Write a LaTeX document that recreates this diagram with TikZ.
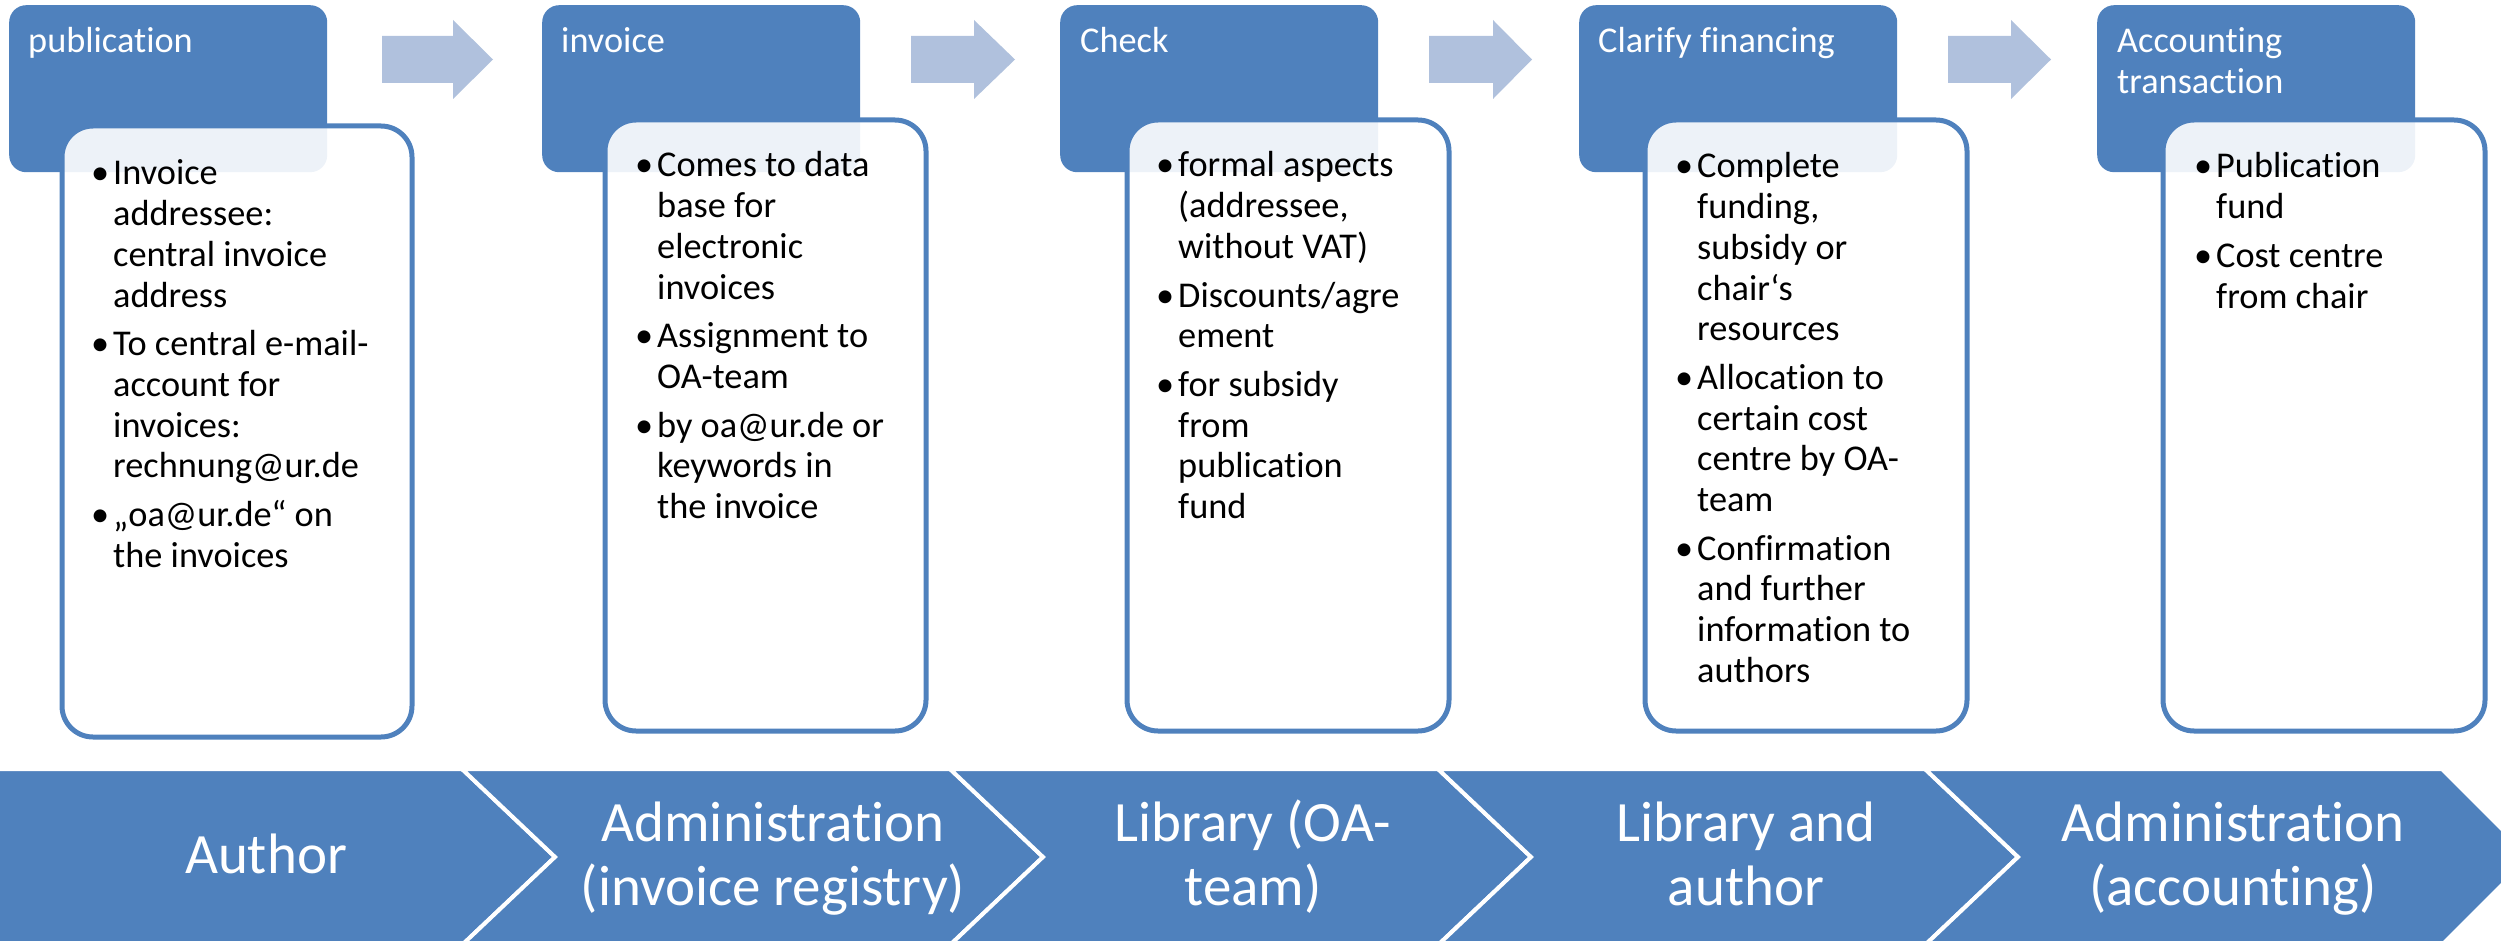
\documentclass[tikz,border=0pt]{standalone}
\usepackage{fontspec}
\setmainfont{Carlito}[Ligatures={NoCommon}]
\definecolor{acc}{RGB}{79,129,189}
\definecolor{arr}{RGB}{176,193,221}
\newlength\bw \setlength\bw{22pt}
\newcommand\bl[1]{\hbox{\hbox to \bw{\textbullet\hfil}#1}}
\newcommand\cl[1]{\hbox{\hskip\bw #1}}
\newcommand\igap{\vskip 8pt}
\newcommand\cen[1]{\hbox to 0pt{\hss #1\hss}}
\newcommand\bodylist[1]{\vtop{\baselineskip=40.7pt\lineskiplimit=-100pt\lineskip=0pt #1}}
\newcommand\bandlist[1]{\vtop{\baselineskip=64pt\lineskiplimit=-100pt\lineskip=0pt #1}}
\begin{document}
\begin{tikzpicture}[x=1pt,y=-1pt,
  hdr/.style={rectangle, rounded corners=17pt, fill=acc, draw=none, inner sep=0pt, minimum width=318pt, minimum height=167pt, anchor=north west},
  wbox/.style={rectangle, rounded corners=31pt, fill=white, fill opacity=0.9, draw=acc, draw opacity=1, line width=5pt, inner sep=0pt, minimum height=611pt, anchor=north west},
  htext/.style={inner sep=0pt, anchor=base west, text=white, font=\fontsize{36.3}{41}\selectfont},
  btext/.style={inner sep=0pt, anchor=base west, text=black, font=\fontsize{36.3}{40.7}\selectfont},
  bandtext/.style={inner sep=0pt, anchor=base, text=white, font=\fontsize{57}{64}\selectfont},
  blockarrow/.style={fill=arr, draw=none},
  chev/.style={fill=acc, draw=white, line width=4pt, line join=miter}
]
\useasboundingbox (0,0) rectangle (2501,941);
\clip (0,0) rectangle (2501,941);

% headers
\node[hdr] (h1) at (9,5) {};
\node[hdr] (h2) at (542,5) {};
\node[hdr] (h3) at (1060,5) {};
\node[hdr] (h4) at (1579,5) {};
\node[hdr] (h5) at (2097,5) {};

\node[htext] (ht1) at (28,53) {publication};
\node[htext] (ht2) at (561,53) {invoice};
\node[htext] (ht3) at (1080,53) {Check};
\node[htext] (ht4) at (1598,53) {Clarify financing};
\node[htext] (ht5) at (2117,53) {\vtop{\baselineskip=41pt\hbox{Accounting}\hbox{transaction}}};

% block arrows
\path[blockarrow] (382,36) -- (453,36) -- (453,20) -- (493,59.5) -- (453,99) -- (453,83) -- (382,83) -- cycle;
\path[blockarrow] (911,36) -- (974,36) -- (974,20) -- (1015,59.5) -- (974,99) -- (974,83) -- (911,83) -- cycle;
\path[blockarrow] (1429,36) -- (1493,36) -- (1493,20) -- (1532,59.5) -- (1493,99) -- (1493,83) -- (1429,83) -- cycle;
\path[blockarrow] (1948,36) -- (2011,36) -- (2011,20) -- (2051,59.5) -- (2011,99) -- (2011,83) -- (1948,83) -- cycle;

% white boxes
\node[wbox, minimum width=350pt] (b1) at (59.5,123.5) {};
\node[wbox, minimum width=321pt] (b2) at (602.5,117.5) {};
\node[wbox, minimum width=322pt] (b3) at (1124.5,117.5) {};
\node[wbox, minimum width=322pt] (b4) at (1642.5,117.5) {};
\node[wbox, minimum width=322pt] (b5) at (2160.5,117.5) {};

% box texts
\node[btext] (l1) at (91,185) {\bodylist{%
  \bl{Invoice}\cl{addressee:}\cl{central invoice}\cl{address}\igap
  \bl{To central e-mail-}\cl{account for}\cl{invoices:}\cl{rechnung@ur.de}\igap
  \bl{„oa@ur.de“ on}\cl{the invoices}}};
\node[btext] (l2) at (635,177) {\bodylist{%
  \bl{Comes to data}\cl{base for}\cl{electronic}\cl{invoices}\igap
  \bl{Assignment to}\cl{OA-team}\igap
  \bl{by oa@ur.de or}\cl{keywords in}\cl{the invoice}}};
\node[btext] (l3) at (1156,177) {\bodylist{%
  \bl{formal aspects}\cl{(addressee,}\cl{without VAT)}\igap
  \bl{Discounts/agre}\cl{ement}\igap
  \bl{for subsidy}\cl{from}\cl{publication}\cl{fund}}};
\node[btext] (l4) at (1675,178) {\bodylist{%
  \bl{Complete}\cl{funding,}\cl{subsidy or}\cl{chair‘s}\cl{resources}\igap
  \bl{Allocation to}\cl{certain cost}\cl{centre by OA-}\cl{team}\igap
  \bl{Confirmation}\cl{and further}\cl{information to}\cl{authors}}};
\node[btext] (l5) at (2194,178) {\bodylist{%
  \bl{Publication}\cl{fund}\igap
  \bl{Cost centre}\cl{from chair}}};

% chevron band
\path[chev] (-10,769) -- (462,769) -- (555,857) -- (462,945) -- (-10,945) -- cycle;
\path[chev] (462,769) -- (950,769) -- (1043,857) -- (950,945) -- (462,945) -- (555,857) -- cycle;
\path[chev] (950,769) -- (1438,769) -- (1531,857) -- (1438,945) -- (950,945) -- (1043,857) -- cycle;
\path[chev] (1438,769) -- (1925,769) -- (2018,857) -- (1925,945) -- (1438,945) -- (1531,857) -- cycle;
\path[chev] (1925,769) -- (2442,769) -- (2530,857) -- (2442,945) -- (1925,945) -- (2018,857) -- cycle;

\node[bandtext] (c1) at (266,873) {Author};
\node[bandtext] (c2) at (773,841) {\bandlist{\cen{Administration}\cen{(invoice registry)}}};
\node[bandtext] (c3) at (1253,841) {\bandlist{\cen{Library (OA-}\cen{team)}}};
\node[bandtext] (c4) at (1746,841) {\bandlist{\cen{Library and}\cen{author}}};
\node[bandtext] (c5) at (2233,841) {\bandlist{\cen{Administration}\cen{(accounting)}}};
\end{tikzpicture}
\end{document}
